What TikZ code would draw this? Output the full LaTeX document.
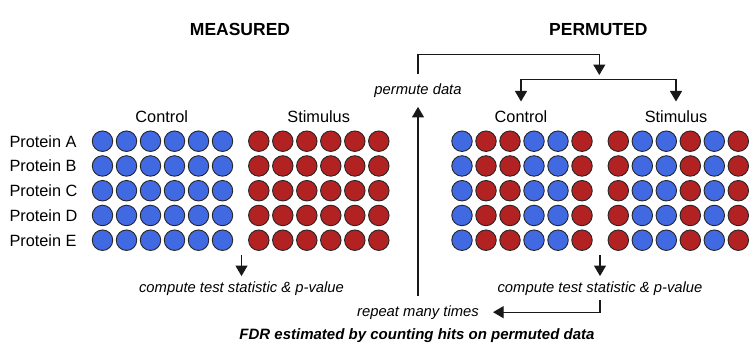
\documentclass[tikz,border=0pt]{standalone}
\usepackage{fontspec}
\setmainfont{Liberation Sans}
\usetikzlibrary{arrows.meta}
\definecolor{cblue}{HTML}{4169E1}
\definecolor{cred}{HTML}{B22222}
\begin{document}
\begin{tikzpicture}[x=1pt,y=-1pt,
  dot/.style={circle,minimum size=20.5pt,inner sep=0pt,draw=black!85,line width=0.9pt},
  lab/.style={font=\fontsize{16.3}{18}\selectfont, inner xsep=0pt, inner ysep=9pt, anchor=base},
  head/.style={font=\bfseries\fontsize{17.5}{20}\selectfont, inner sep=0pt, anchor=base},
  note/.style={font=\itshape\fontsize{14.8}{17}\selectfont, anchor=base},
  arr/.style={-{Triangle[length=10.5pt,width=12pt]}, line width=1.1pt, draw=black!90},
  ln/.style={line width=1.1pt, draw=black!90}]
\useasboundingbox (0,0) rectangle (756,360);

% headers
\node[head] (hm) at (240,35) {MEASURED};
\node[head] (hp) at (598.3,35) {PERMUTED};

% column labels
\node[lab] (ctrlL) at (161.7,122.5) {Control};
\node[lab] (stimL) at (318.7,122.5) {Stimulus};
\node[lab] (ctrlR) at (521,122.5) {Control};
\node[lab] (stimR) at (676,122.5) {Stimulus};

% grids
\foreach \r [count=\i from 0] in {A,B,C,D,E} {
  \pgfmathsetmacro\yy{141.2+24.75*\i}
  \node[lab, inner sep=0pt, anchor=base west] (p\r) at (9.3,\yy+6) {Protein \r};
  \foreach \k in {0,...,5} {
    \node[dot, fill=cblue] (mc\r\k) at (102.5+24*\k,\yy) {};
    \node[dot, fill=cred] (ms\r\k) at (258.8+24*\k,\yy) {};
  }
  \foreach \c [count=\k from 0] in {cblue,cred,cred,cblue,cblue,cred}
    \node[dot, fill=\c] (pc\r\k) at (462+24*\k,\yy) {};
  \foreach \c [count=\k from 0] in {cred,cblue,cblue,cred,cblue,cred}
    \node[dot, fill=\c] (ps\r\k) at (618.3+24*\k,\yy) {};
}

% texts
\node[note, inner ysep=5pt] (cmpL) at (241.5,292) {compute test statistic \& p-value};
\node[note, inner ysep=5pt] (cmpR) at (600,292) {compute test statistic \& p-value};
\node[note, inner xsep=14pt, inner ysep=9pt] (rep) at (418,316) {repeat many times};
\node[note, inner ysep=9.1pt] (pd) at (418,94.5) {permute data};
\node[font=\bfseries\itshape\fontsize{15}{18}\selectfont, anchor=base] (fdr) at (417,339.5) {FDR estimated by counting hits on permuted data};

% coordinates
\coordinate (aL) at (241.5,255);
\coordinate (aR) at (600,255);
\coordinate (topR) at (599.3,54.3);
\coordinate (split) at (599.3,75);
\coordinate (brM) at (599.3,79.3);

% connectors
\draw[arr] (aL) -- (cmpL.north);
\draw[arr] (aR) -- (cmpR.north);
\draw[arr] (cmpR.south) |- (rep.east);
\draw[arr] (rep.north) -- (pd.south);
\draw[arr] (pd.north) |- (topR) -- (split);
\draw[arr] (brM) -| (ctrlR.north);
\draw[arr] (brM) -| (stimR.north);
\end{tikzpicture}
\end{document}
